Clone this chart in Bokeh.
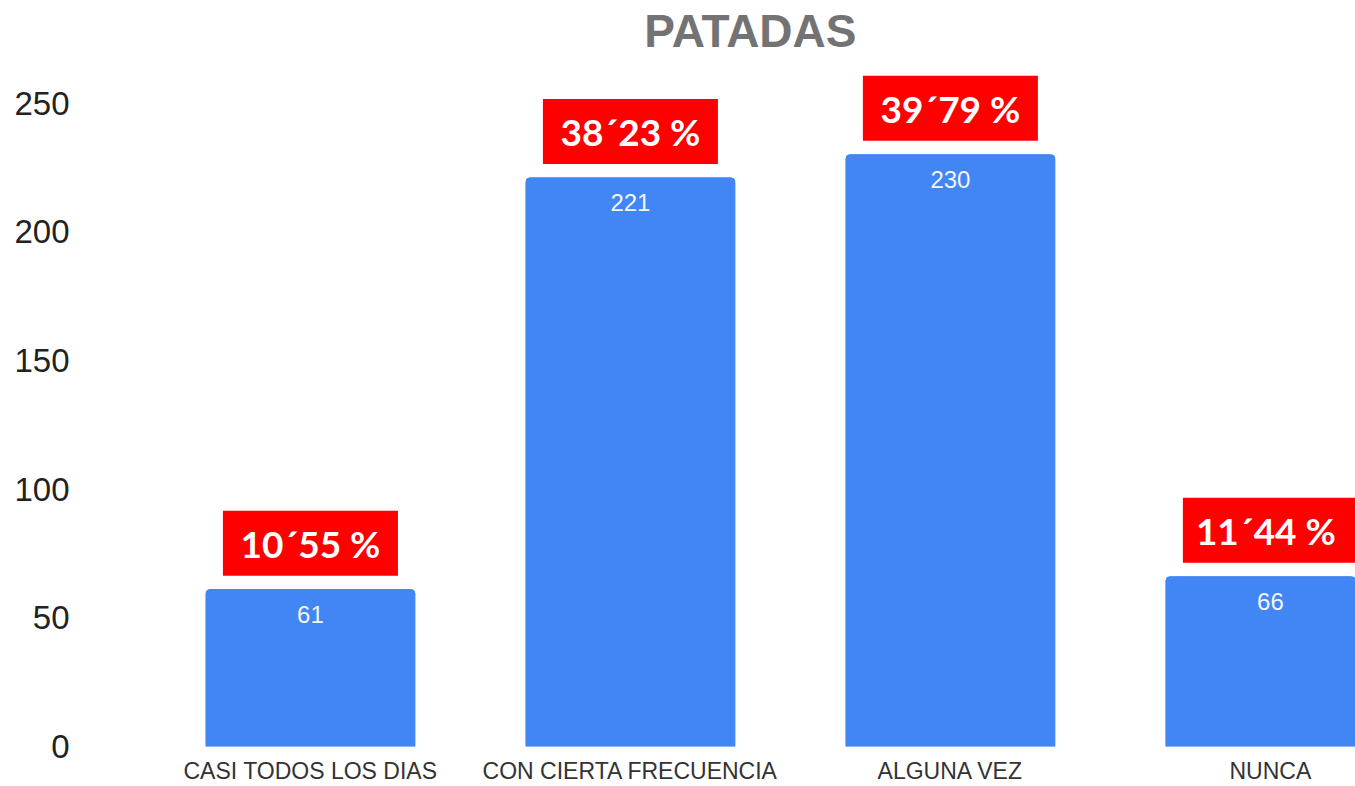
from bokeh.plotting import figure
from bokeh.models import Range1d, FixedTicker, ColumnDataSource, Label
from bokeh.core.properties import value
from bokeh.embed import file_html
from bokeh.resources import INLINE

title = "PATADAS"
categories = ["CASI TODOS LOS DIAS", "CON CIERTA FRECUENCIA", "ALGUNA VEZ", "NUNCA"]
counts = [61, 221, 230, 66]
percents = ["10\u00b455 %", "38\u00b423 %", "39\u00b479 %", "11\u00b444  %"]
y_ticks = [0, 50, 100, 150, 200, 250]

xs = [i + 0.5 for i in range(len(categories))]
box_offset = 18  # data units above bar top for the red label box

src = ColumnDataSource(dict(
    x=xs, top=counts, lab=[str(c) for c in counts],
    py=[c + box_offset for c in counts], pct=percents,
))

p = figure(width=1355, height=786, output_backend="svg", toolbar_location=None,
           x_range=Range1d(-0.203, 3.766), y_range=Range1d(0, 289.9),
           min_border_left=85, min_border_right=0, min_border_top=0, min_border_bottom=38)
p.outline_line_color = None
p.xgrid.visible = False
p.ygrid.visible = False
p.background_fill_color = "white"
p.border_fill_color = "white"

p.vbar(x="x", top="top", bottom=0, width=0.653, source=src, color="#4285F4",
       border_radius=(4, 4, 0, 0))

p.text(x="x", y="top", text="lab", source=src, y_offset=25,
       text_align="center", text_baseline="middle", text_color="#f4f6fb",
       text_font=value("Liberation Sans"), text_font_size="24px")

p.rect(x="x", y="py", width=175, height=65, width_units="screen", height_units="screen",
       source=src, fill_color="#ff0000", line_color=None)
p.text(x="x", y="py", text="pct", source=src, text_align="center", text_baseline="middle",
       text_color="white", text_font=value("Lato"), text_font_style="bold",
       text_font_size="37px")

p.add_layout(Label(x=1.875, y=277.9, text=title, text_align="center",
                   text_baseline="alphabetic", text_font="Liberation Sans",
                   text_font_style="bold", text_font_size="46px", text_color="#737373"))

p.yaxis.ticker = FixedTicker(ticks=y_ticks)
p.yaxis.axis_line_color = None
p.yaxis.major_tick_line_color = None
p.yaxis.minor_tick_line_color = None
p.yaxis.major_label_standoff = 10
p.yaxis.major_label_text_font = "Liberation Sans"
p.yaxis.major_label_text_font_size = "33px"
p.yaxis.major_label_text_color = "#222222"

p.xaxis.ticker = FixedTicker(ticks=xs)
p.xaxis.major_label_overrides = {x: c for x, c in zip(xs, categories)}
p.xaxis.axis_line_color = None
p.xaxis.major_tick_line_color = None
p.xaxis.minor_tick_line_color = None
p.xaxis.major_label_standoff = 5
p.xaxis.major_label_text_font = "Liberation Sans"
p.xaxis.major_label_text_font_size = "23px"
p.xaxis.major_label_text_color = "#333333"

open("out.html", "w").write(file_html(p, INLINE))
